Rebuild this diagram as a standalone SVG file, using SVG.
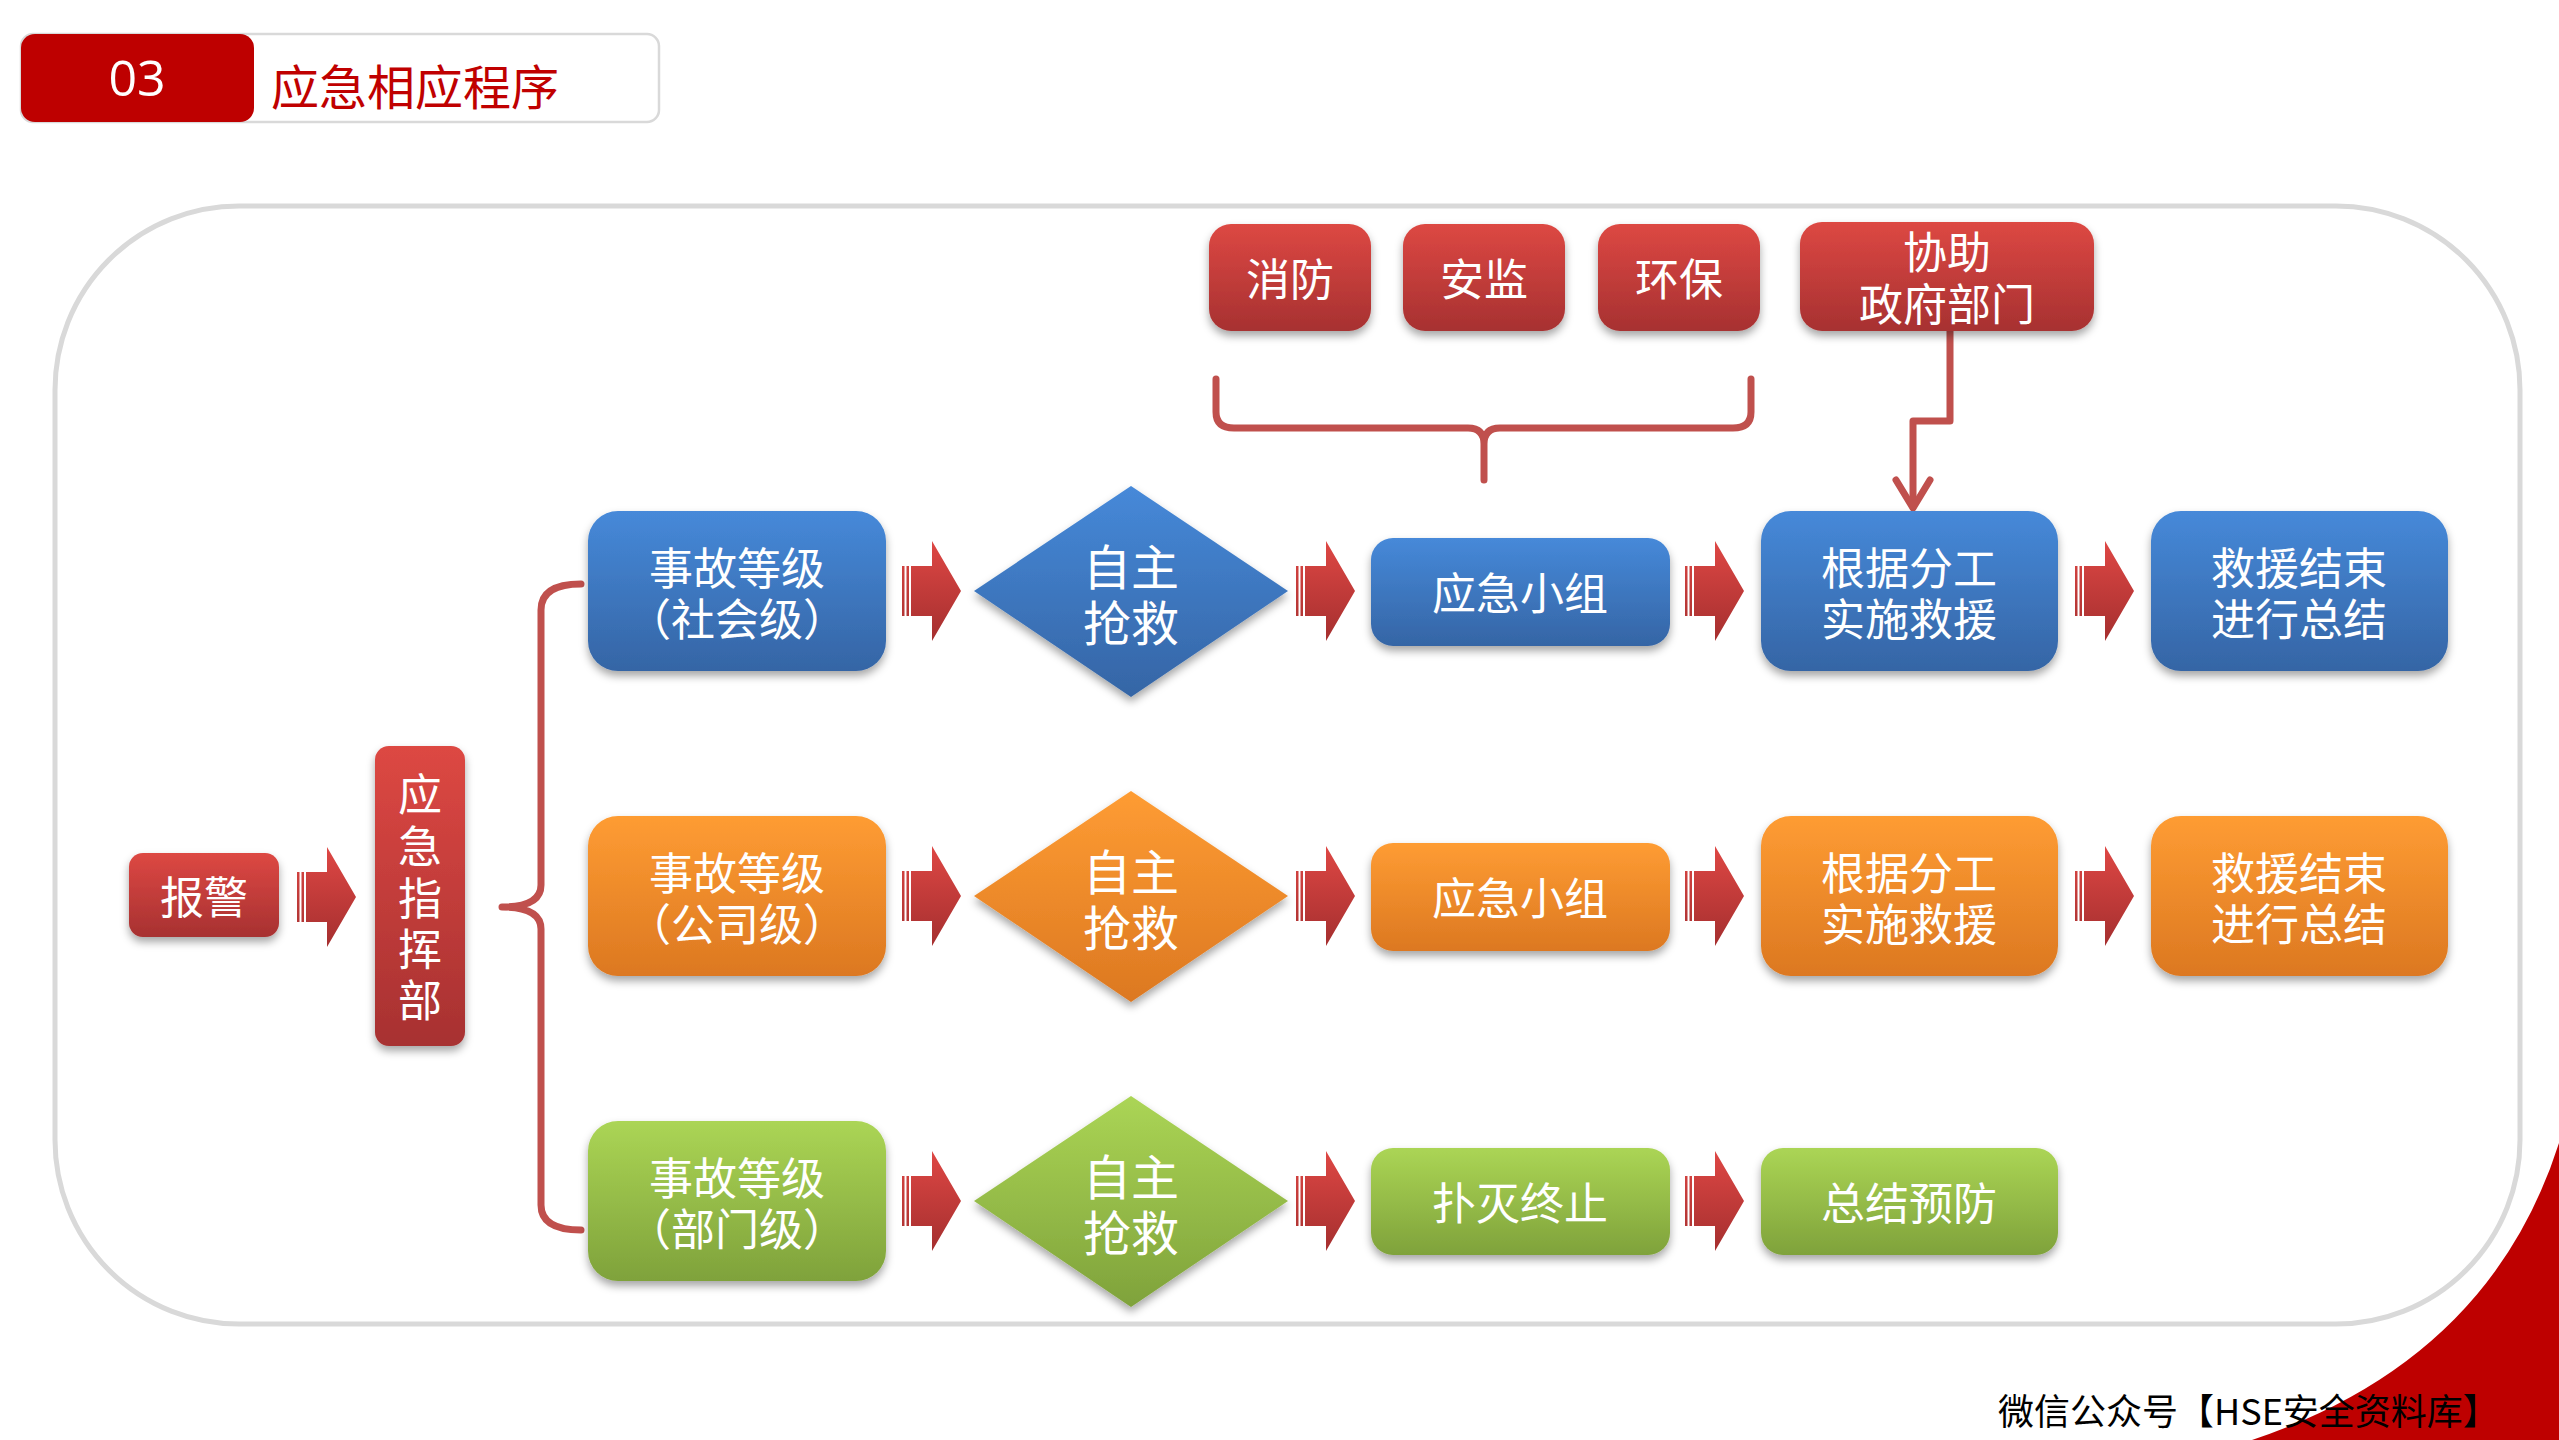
<svg xmlns="http://www.w3.org/2000/svg" width="2559" height="1440" viewBox="0 0 2559 1440">
<defs>
<linearGradient id="gRed" x1="0" y1="0" x2="0" y2="1"><stop offset="0" stop-color="#dd4843"/><stop offset="1" stop-color="#a73131"/></linearGradient>
<linearGradient id="gBlue" x1="0" y1="0" x2="0" y2="1"><stop offset="0" stop-color="#4689d9"/><stop offset="1" stop-color="#3565a5"/></linearGradient>
<linearGradient id="gOrange" x1="0" y1="0" x2="0" y2="1"><stop offset="0" stop-color="#fe9c33"/><stop offset="1" stop-color="#dc7821"/></linearGradient>
<linearGradient id="gGreen" x1="0" y1="0" x2="0" y2="1"><stop offset="0" stop-color="#abd555"/><stop offset="1" stop-color="#7fa23b"/></linearGradient>
<linearGradient id="gArrow" x1="0" y1="0" x2="0" y2="1"><stop offset="0" stop-color="#de4744"/><stop offset="1" stop-color="#a52f2f"/></linearGradient>
<filter id="sh" x="-20%" y="-20%" width="140%" height="150%"><feDropShadow dx="0" dy="5" stdDeviation="4" flood-color="#000" flood-opacity="0.35"/></filter>
<path id="arrow" d="M0,-25 h2.5 v50 h-2.5 Z M4.5,-25 h2.5 v50 h-2.5 Z M9,-25 H30 V-50 L59,0 L30,50 V25 H9 Z" fill="url(#gArrow)"/>
</defs>
<style>
.t{font-family:"Noto Sans CJK SC","Noto Sans",sans-serif;fill:#fff;text-anchor:middle;dominant-baseline:central;font-size:44px}
.d{font-size:48px}
.conn{fill:none;stroke:#c0504d;stroke-width:7;stroke-linecap:round;stroke-linejoin:round}
.red{fill:url(#gRed);filter:url(#sh)}
.blue{fill:url(#gBlue);filter:url(#sh)}
.orange{fill:url(#gOrange);filter:url(#sh)}
.green{fill:url(#gGreen);filter:url(#sh)}
</style>
<rect x="0" y="0" width="2559" height="1440" fill="#fff"/>

<g id="header">
<rect x="21" y="34" width="638" height="88" rx="12" fill="#fff" stroke="#d9d9d9" stroke-width="2.5"/>
<rect x="21" y="34" width="233" height="88" rx="14" fill="#be0000"/>
<text x="137" y="77" style="font-family:'Open Sans','Liberation Sans',sans-serif;font-size:50px;fill:#fff;text-anchor:middle;dominant-baseline:central">03</text>
<text x="271" y="84" style="font-family:'Noto Sans CJK SC',sans-serif;font-size:48px;fill:#c00000;dominant-baseline:central">应急相应程序</text>
</g>

<rect id="container" x="55" y="206" width="2465" height="1118" rx="184" ry="184" fill="none" stroke="#d9d9d9" stroke-width="5"/>

<path id="swoosh" d="M2559,1143 Q2490,1360 2252,1440 L2559,1440 Z" fill="#be0000"/>

<text id="footer" x="1998" y="1409" style="font-family:'Noto Sans CJK SC',sans-serif;font-size:36px;fill:#000;dominant-baseline:central">微信公众号【HSE安全资料库】</text>

<g id="connectors">
<path class="conn" d="M1216,379 L1216,412 Q1216,428 1234,428 L1468,428 Q1484,428 1484,444 L1484,480 M1484,444 Q1484,428 1500,428 L1733,428 Q1751,428 1751,412 L1751,379"/>
<path class="conn" d="M1950,331 L1950,421 L1913,421 L1913,506"/>
<polyline class="conn" points="1896,480 1913,508 1930,480"/>
<path class="conn" d="M581,584 Q541,584 541,610 L541,885 Q541,907 502,907 Q541,907 541,929 L541,1205 Q541,1230 581,1230"/>
<use href="#arrow" x="297" y="897"/>
<use href="#arrow" x="902" y="591"/>
<use href="#arrow" x="1296" y="591"/>
<use href="#arrow" x="1685" y="591"/>
<use href="#arrow" x="2075" y="591"/>
<use href="#arrow" x="902" y="896"/>
<use href="#arrow" x="1296" y="896"/>
<use href="#arrow" x="1685" y="896"/>
<use href="#arrow" x="2075" y="896"/>
<use href="#arrow" x="902" y="1201"/>
<use href="#arrow" x="1296" y="1201"/>
<use href="#arrow" x="1685" y="1201"/>
</g>

<g id="n_xiaofang"><rect class="red" x="1209" y="224" width="162" height="107" rx="22"/><text class="t" x="1290" y="277">消防</text></g>
<g id="n_anjian"><rect class="red" x="1403" y="224" width="162" height="107" rx="22"/><text class="t" x="1484" y="277">安监</text></g>
<g id="n_huanbao"><rect class="red" x="1598" y="224" width="162" height="107" rx="22"/><text class="t" x="1679" y="277">环保</text></g>
<g id="n_xiezhu"><rect class="red" x="1800" y="222" width="294" height="109" rx="22"/><text class="t"><tspan x="1947" y="250">协助</tspan><tspan x="1947" y="302">政府部门</tspan></text></g>

<g id="n_baojing"><rect class="red" x="129" y="853" width="150" height="84" rx="14"/><text class="t" x="204" y="895">报警</text></g>
<g id="n_zhihuibu"><rect class="red" x="375" y="746" width="90" height="300" rx="14"/>
<text class="t"><tspan x="420" y="792">应</tspan><tspan x="420" y="844">急</tspan><tspan x="420" y="896">指</tspan><tspan x="420" y="947">挥</tspan><tspan x="420" y="998">部</tspan></text></g>

<g id="n_r1_level"><rect class="blue" x="588" y="511" width="298" height="160" rx="30"/><text class="t"><tspan x="737" y="566">事故等级</tspan><tspan x="737" y="617">（社会级）</tspan></text></g>
<g id="n_r1_self"><polygon class="blue" points="1131,486 1288,591 1131,697 974,591"/><text class="t d"><tspan x="1131" y="564">自主</tspan><tspan x="1131" y="620">抢救</tspan></text></g>
<g id="n_r1_team"><rect class="blue" x="1371" y="538" width="299" height="108" rx="22"/><text class="t" x="1520" y="591">应急小组</text></g>
<g id="n_r1_rescue"><rect class="blue" x="1761" y="511" width="297" height="160" rx="30"/><text class="t"><tspan x="1909" y="566">根据分工</tspan><tspan x="1909" y="617">实施救援</tspan></text></g>
<g id="n_r1_end"><rect class="blue" x="2151" y="511" width="297" height="160" rx="30"/><text class="t"><tspan x="2299" y="566">救援结束</tspan><tspan x="2299" y="617">进行总结</tspan></text></g>

<g id="n_r2_level"><rect class="orange" x="588" y="816" width="298" height="160" rx="30"/><text class="t"><tspan x="737" y="871">事故等级</tspan><tspan x="737" y="922">（公司级）</tspan></text></g>
<g id="n_r2_self"><polygon class="orange" points="1131,791 1288,896 1131,1002 974,896"/><text class="t d"><tspan x="1131" y="869">自主</tspan><tspan x="1131" y="925">抢救</tspan></text></g>
<g id="n_r2_team"><rect class="orange" x="1371" y="843" width="299" height="108" rx="22"/><text class="t" x="1520" y="896">应急小组</text></g>
<g id="n_r2_rescue"><rect class="orange" x="1761" y="816" width="297" height="160" rx="30"/><text class="t"><tspan x="1909" y="871">根据分工</tspan><tspan x="1909" y="922">实施救援</tspan></text></g>
<g id="n_r2_end"><rect class="orange" x="2151" y="816" width="297" height="160" rx="30"/><text class="t"><tspan x="2299" y="871">救援结束</tspan><tspan x="2299" y="922">进行总结</tspan></text></g>

<g id="n_r3_level"><rect class="green" x="588" y="1121" width="298" height="160" rx="30"/><text class="t"><tspan x="737" y="1176">事故等级</tspan><tspan x="737" y="1227">（部门级）</tspan></text></g>
<g id="n_r3_self"><polygon class="green" points="1131,1096 1288,1201 1131,1307 974,1201"/><text class="t d"><tspan x="1131" y="1174">自主</tspan><tspan x="1131" y="1230">抢救</tspan></text></g>
<g id="n_r3_stop"><rect class="green" x="1371" y="1148" width="299" height="107" rx="22"/><text class="t" x="1520" y="1201">扑灭终止</text></g>
<g id="n_r3_prevent"><rect class="green" x="1761" y="1148" width="297" height="107" rx="22"/><text class="t" x="1909" y="1201">总结预防</text></g>
</svg>
